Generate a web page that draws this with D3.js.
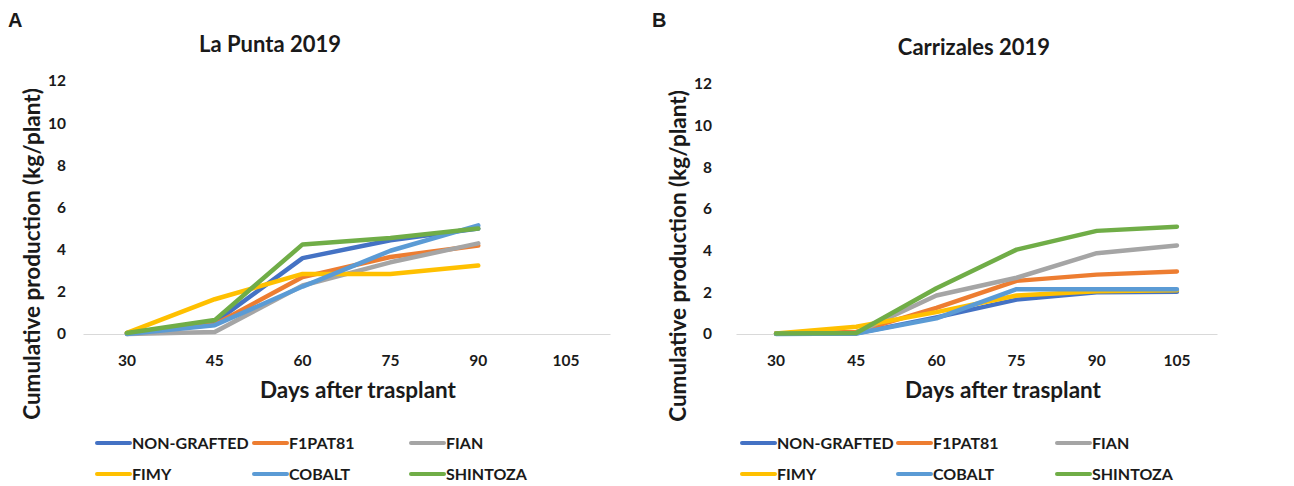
<!DOCTYPE html>
<html>
<head>
<meta charset="utf-8">
<script src="https://cdn.jsdelivr.net/npm/d3@7/dist/d3.min.js"></script>
<style>
  html, body { margin: 0; padding: 0; background: #fff; }
  svg { display: block; }
  text { font-family: Lato, "Open Sans", sans-serif; font-weight: 700; fill: #1a1a1a; }
</style>
</head>
<body>
<svg id="chart" width="1294" height="486"></svg>
<script>
// Days after transplant (category axis)
const days = ["30", "45", "60", "75", "90", "105"];
const yTicks = [0, 2, 4, 6, 8, 10, 12];

const seriesNames = ["NON-GRAFTED", "F1PAT81", "FIAN", "FIMY", "COBALT", "SHINTOZA"];
const seriesColors = ["#4472C4", "#ED7D31", "#A5A5A5", "#FFC000", "#5B9BD5", "#70AD47"];

// La Punta 2019 — cumulative production (kg/plant), 30–90 days
const puntaNonGrafted = [0.05, 0.55, 3.6, 4.45, 5.0];
const puntaF1pat81    = [0.02, 0.45, 2.7, 3.65, 4.2];
const puntaFian       = [0.0, 0.1, 2.3, 3.4, 4.3];
const puntaFimy       = [0.05, 1.65, 2.85, 2.85, 3.25];
const puntaCobalt     = [0.0, 0.42, 2.25, 3.95, 5.15];
const puntaShintoza   = [0.05, 0.66, 4.25, 4.55, 5.0];

// Carrizales 2019 — cumulative production (kg/plant), 30–105 days
const carrNonGrafted = [0.02, 0.03, 0.8, 1.65, 2.0, 2.03];
const carrF1pat81    = [0.02, 0.1, 1.25, 2.55, 2.85, 3.0];
const carrFian       = [0.02, 0.05, 1.85, 2.7, 3.88, 4.25];
const carrFimy       = [0.02, 0.35, 1.05, 1.85, 2.05, 2.1];
const carrCobalt     = [0.0, 0.02, 0.75, 2.15, 2.15, 2.15];
const carrShintoza   = [0.02, 0.05, 2.2, 4.05, 4.95, 5.15];

const svg = d3.select("#chart");

function drawPanel(opt) {
  const g = svg.append("g");

  const x = d3.scaleBand().domain(days).range([opt.x0, opt.x1]);
  const y = d3.scaleLinear().domain([0, 12]).range([opt.yBottom, opt.yTop]);
  const cx = d => x(d) + x.bandwidth() / 2;

  // panel letter
  g.append("text").attr("x", opt.letterX).attr("y", 27)
    .style("font-family", "'Liberation Sans', Arial, sans-serif")
    .style("font-size", "20px").text(opt.letter);

  // title
  g.append("text").attr("x", opt.titleX).attr("y", opt.titleY)
    .attr("text-anchor", "middle").style("font-size", "22px").text(opt.title);

  // y axis labels (no axis line)
  const yAxis = d3.axisLeft(y).tickValues(yTicks).tickSize(0).tickPadding(0);
  const ya = g.append("g").attr("transform", `translate(${opt.yLabelX},0)`).call(yAxis);
  ya.select(".domain").remove();
  ya.selectAll("text").style("font-family", "Lato, sans-serif")
    .style("font-size", "15.5px").style("font-weight", 700).attr("fill", "#1a1a1a");

  // x axis baseline + labels
  const xAxis = d3.axisBottom(x).tickSize(0).tickPadding(21);
  const xa = g.append("g").attr("transform", `translate(0,${opt.yBottom})`).call(xAxis);
  xa.select(".domain").attr("stroke", "#d9d9d9").attr("stroke-width", 1.2);
  xa.selectAll("text").style("font-family", "Lato, sans-serif")
    .style("font-size", "15.5px").style("font-weight", 700).attr("fill", "#1a1a1a");

  // axis titles
  g.append("text").attr("x", opt.xTitleX).attr("y", 398)
    .attr("text-anchor", "middle").style("font-size", "22.5px").text("Days after trasplant");
  g.append("text")
    .attr("transform", `translate(${opt.yTitleX},${opt.yTitleY}) rotate(-90)`)
    .attr("text-anchor", "middle").style("font-size", "22.5px")
    .text("Cumulative production (kg/plant)");

  // series lines
  const line = d3.line().x((d, i) => cx(days[i])).y(d => y(d));
  opt.series.forEach((vals, i) => {
    g.append("path").datum(vals)
      .attr("d", line)
      .attr("fill", "none")
      .attr("stroke", seriesColors[i])
      .attr("stroke-width", 4.5)
      .attr("stroke-linecap", "round")
      .attr("stroke-linejoin", "round");
  });

  // legend: 3 columns x 2 rows
  const rows = [443, 474];
  seriesNames.forEach((name, i) => {
    const col = i % 3, row = Math.floor(i / 3);
    const lx = opt.legendCols[col];
    const ly = rows[row];
    g.append("line").attr("x1", lx).attr("x2", lx + 33)
      .attr("y1", ly).attr("y2", ly)
      .attr("stroke", seriesColors[i]).attr("stroke-width", 4)
      .attr("stroke-linecap", "round");
    g.append("text").attr("x", lx + 35).attr("y", ly).attr("dy", "0.36em")
      .style("font-size", "16px").text(name);
  });
}

drawPanel({
  letter: "A", letterX: 8,
  title: "La Punta 2019", titleX: 270, titleY: 52,
  x0: 83, x1: 610, yBottom: 334, yTop: 81,
  yLabelX: 66, yTitleX: 40, yTitleY: 254, xTitleX: 358,
  legendCols: [97, 254, 411],
  series: [puntaNonGrafted, puntaF1pat81, puntaFian, puntaFimy, puntaCobalt, puntaShintoza]
});

drawPanel({
  letter: "B", letterX: 652,
  title: "Carrizales 2019", titleX: 974, titleY: 55,
  x0: 736, x1: 1217, yBottom: 334, yTop: 84,
  yLabelX: 712, yTitleX: 686, yTitleY: 256, xTitleX: 1003,
  legendCols: [742, 898, 1057],
  series: [carrNonGrafted, carrF1pat81, carrFian, carrFimy, carrCobalt, carrShintoza]
});
</script>
</body>
</html>
